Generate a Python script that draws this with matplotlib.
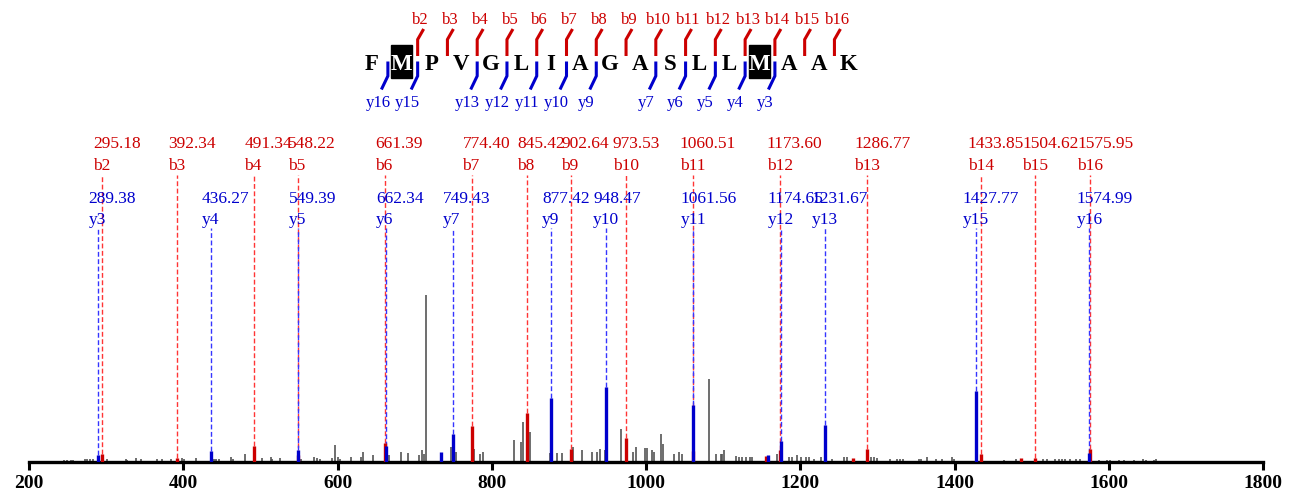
import matplotlib
matplotlib.use('Agg')
import matplotlib.pyplot as plt
from matplotlib.patches import Rectangle

plt.rcParams['font.family'] = ['Liberation Serif', 'DejaVu Serif']

# ---------------- data ----------------
sequence = list("FMPVGLIAGASLLMAAK")
boxed_residues = [1, 13]           # modified M residues (0-based)
b_marked = list(range(2, 17))      # b ions marked on the sequence
y_marked = [16, 15, 13, 12, 11, 10, 9, 7, 6, 5, 4, 3]

b_mz = [295.18, 392.34, 491.34, 548.22, 661.39, 774.40, 845.42, 902.64,
        973.53, 1060.51, 1173.60, 1286.77, 1433.85, 1504.62, 1575.95]
b_txt = ['295.18', '392.34', '491.34', '548.22', '661.39', '774.40', '845.42',
         '902.64', '973.53', '1060.51', '1173.60', '1286.77', '1433.85',
         '1504.62', '1575.95']
b_lab = ['b2', 'b3', 'b4', 'b5', 'b6', 'b7', 'b8', 'b9', 'b10', 'b11', 'b12',
         'b13', 'b14', 'b15', 'b16']
b_int = [8, 4, 16, 7, 19, 36, 49, 13, 24, 11, 12, 13, 8, 4, 13]

y_mz = [289.38, 436.27, 549.39, 662.34, 749.43, 877.42, 948.47, 1061.56,
        1174.65, 1231.67, 1427.77, 1574.99]
y_txt = ['289.38', '436.27', '549.39', '662.34', '749.43', '877.42', '948.47',
         '1061.56', '1174.65', '1231.67', '1427.77', '1574.99']
y_lab = ['y3', 'y4', 'y5', 'y6', 'y7', 'y9', 'y10', 'y11', 'y12', 'y13',
         'y15', 'y16']
y_int = [7, 11, 12, 16, 28, 64, 75, 57, 21, 37, 71, 9]

red_extra_mz = [1155.0, 1268.7, 1486.5]
red_extra_int = [6, 4, 4]
blue_extra_mz = [733.9, 1158.0]
blue_extra_int = [10, 7]

gray_mz = [245.4, 248.9, 254.0, 257.5, 272.6, 275.7, 279.0, 283.0,
           300.7, 325.4, 327.6, 338.3, 344.8, 366.4, 373.0, 383.7, 398.9, 401.0,
           416.0, 439.8, 442.0, 446.3, 462.4, 465.0, 479.6, 502.6, 513.3, 515.5,
           525.4, 552.2, 569.5, 573.0, 577.3, 593.3, 596.5, 600.6, 603.2, 618.0,
           630.9, 633.5, 646.4, 667.2, 681.9, 691.3, 705.6, 710.0, 712.0, 714.3,
           746.7, 753.2, 776.9, 784.7, 789.1, 828.7, 838.3, 840.4, 849.1, 875.0,
           885.0, 891.5, 905.7, 917.4, 930.4, 936.0, 940.2, 946.3, 968.0,
           983.0, 987.4, 998.2, 1000.8, 1007.2, 1010.7, 1019.8, 1021.5, 1036.1,
           1042.6, 1047.0, 1081.5, 1090.2, 1096.7, 1098.9, 1101.0, 1116.1,
           1120.4, 1124.8, 1129.1, 1134.7, 1137.8, 1169.3, 1185.3, 1189.6,
           1196.1, 1200.4, 1206.9, 1211.2, 1217.7, 1226.3, 1241.5, 1256.5,
           1260.9, 1291.1, 1295.4, 1298.9, 1317.0, 1324.8, 1329.1, 1333.5,
           1353.8, 1356.9, 1364.6, 1375.6, 1384.2, 1397.2, 1399.3, 1435.9,
           1463.9, 1479.1, 1515.0, 1520.2, 1529.7, 1535.2, 1539.6, 1543.9,
           1549.5, 1556.9, 1562.5, 1587.0, 1597.9, 1602.2, 1613.0, 1620.4,
           1632.5, 1644.6, 1648.9, 1658.4, 1661.9]
gray_int = [2, 2, 2, 2, 3, 3, 3, 3,
            3, 3, 2, 4, 3, 3, 3, 3, 4, 3,
            4, 3, 3, 3, 5, 3, 8, 4, 5, 3,
            4, 3, 5, 4, 3, 4, 17, 5, 3, 5,
            5, 10, 7, 7, 10, 9, 7, 12, 8, 167,
            15, 10, 13, 8, 10, 22, 20, 40, 30, 9,
            9, 9, 15, 12, 10, 10, 13, 12, 33,
            10, 15, 14, 14, 12, 10, 28, 18, 8,
            10, 8, 83, 8, 8, 8, 12, 6,
            5, 5, 5, 5, 5, 8, 5, 5,
            7, 5, 5, 5, 3, 5, 3, 5,
            5, 5, 5, 4, 3, 3, 3, 3,
            3, 3, 5, 3, 3, 5, 3, 3,
            2, 3, 3, 3, 3, 3, 3, 3,
            3, 3, 3, 2, 2, 2, 2, 2,
            2, 3, 2, 2, 3]

x_ticks = [200, 400, 600, 800, 1000, 1200, 1400, 1600, 1800]

# ---------------- figure ----------------
W, H = 1294, 499
fig = plt.figure(figsize=(W / 100, H / 100), dpi=100)
base_px = 461.7
ax = fig.add_axes([29 / W, (H - base_px) / H, 1234 / W, base_px / H])
ax.set_xlim(200, 1800)
ax.set_ylim(0, base_px)

RED = '#cc0000'
BLUE = '#0000cc'
RED_D = '#ff3535'
BLUE_D = '#3535ff'
GRAY = '#555555'

ax.vlines(gray_mz, 0, gray_int, color=GRAY, lw=1.2, zorder=2)

red_top, blue_top = 286.7, 233.7
ax.vlines(b_mz, b_int, red_top, color=RED_D, lw=1.0, linestyles=(0, (3.5, 1.8)), zorder=1)
ax.vlines(y_mz, y_int, blue_top, color=BLUE_D, lw=1.0, linestyles=(0, (3.5, 1.8)), zorder=1)

ax.vlines(b_mz, 0, b_int, color=RED, lw=2.4, zorder=3)
ax.vlines(red_extra_mz, 0, red_extra_int, color=RED, lw=2.4, zorder=3)
ax.vlines(y_mz, 0, y_int, color=BLUE, lw=2.4, zorder=4)
ax.vlines(blue_extra_mz, 0, blue_extra_int, color=BLUE, lw=2.4, zorder=4)

off = {2: 9.5, 3: 13.0}
fs = 12.5
for mz, t, lab in zip(b_mz, b_txt, b_lab):
    o = off[len(lab)]
    ax.annotate(t, xy=(mz, 313.4), xytext=(-o, 0), textcoords='offset pixels',
                ha='left', va='baseline', color=RED, fontsize=fs)
    ax.annotate(lab, xy=(mz, 291.7), xytext=(-o, 0), textcoords='offset pixels',
                ha='left', va='baseline', color=RED, fontsize=fs)
for mz, t, lab in zip(y_mz, y_txt, y_lab):
    o = off[len(lab)]
    ax.annotate(t, xy=(mz, 259.0), xytext=(-o, 0), textcoords='offset pixels',
                ha='left', va='baseline', color=BLUE, fontsize=fs)
    ax.annotate(lab, xy=(mz, 237.4), xytext=(-o, 0), textcoords='offset pixels',
                ha='left', va='baseline', color=BLUE, fontsize=fs)

for s in ['left', 'right', 'top']:
    ax.spines[s].set_visible(False)
ax.spines['bottom'].set_linewidth(2.4)
ax.set_yticks([])
ax.set_xticks(x_ticks)
ax.tick_params(axis='x', direction='out', length=6, width=2.2, pad=3.5)
for lbl in ax.get_xticklabels():
    lbl.set_fontweight('bold')
    lbl.set_fontsize(14)

# ---------------- sequence header (pixel coordinates) ----------------
ov = fig.add_axes([0, 0, 1, 1])
ov.set_xlim(0, W)
ov.set_ylim(H, 0)
ov.axis('off')

x0, dx = 372.0, 29.77
for i, aa in enumerate(sequence):
    cx = x0 + i * dx
    if i in boxed_residues:
        ov.add_patch(Rectangle((cx - 10.5, 45), 21, 32.5, color='black', zorder=2))
        ov.text(cx, 70, aa, ha='center', va='baseline', fontsize=16.5,
                fontweight='bold', color='white', zorder=3)
    else:
        ov.text(cx, 70, aa, ha='center', va='baseline', fontsize=16.5,
                fontweight='bold', color='black', zorder=3)

for k in b_marked:
    gx = x0 + (k - 0.5) * dx + 1
    ov.plot([gx + 6, gx, gx], [29, 39.5, 56], color=RED, lw=2.2,
            solid_capstyle='butt', solid_joinstyle='miter')
    ov.text(gx + 3, 24, f'b{k}', ha='center', va='baseline', color=RED, fontsize=12)
for k in y_marked:
    gx = x0 + (16 - k + 0.5) * dx + 1
    ov.plot([gx, gx, gx - 6.5], [61.5, 76, 89.5], color=BLUE, lw=2.2,
            solid_capstyle='butt', solid_joinstyle='miter')
    ov.text(gx - 10, 107, f'y{k}', ha='center', va='baseline', color=BLUE, fontsize=12)

fig.savefig('out.png', dpi=100)
